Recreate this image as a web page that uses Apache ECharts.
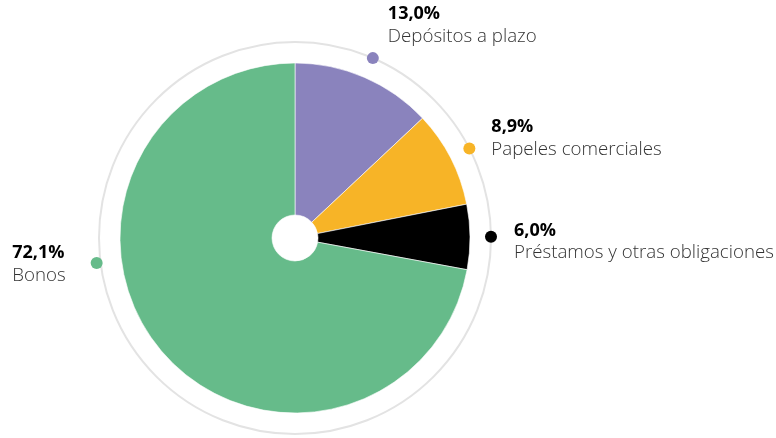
<!DOCTYPE html>
<html>
<head>
<meta charset="utf-8">
<script src="https://cdn.jsdelivr.net/npm/echarts@6/dist/echarts.min.js"></script>
<style>
  html, body { margin: 0; padding: 0; background: #fff; }
  #chart { width: 776px; height: 438px; }
</style>
</head>
<body>
<div id="chart"></div>
<script>
// Composición del financiamiento
var categories = ['Depósitos a plazo', 'Papeles comerciales', 'Préstamos y otras obligaciones', 'Bonos'];
var shares = [13.0, 8.9, 6.0, 72.1];
var valueLabels = ['13,0%', '8,9%', '6,0%', '72,1%'];
var colors = ['#8a83bd', '#f7b427', '#000000', '#66bb8a'];

var FONT = '"Open Sans", "Noto Sans", sans-serif';
var CENTER = [295, 238];

// Marker angle on the outer ring: middle of each slice (in % of the full turn)
var total = shares.reduce(function (a, b) { return a + b; }, 0);
var acc = 0;
var anchors = shares.map(function (v) {
  var mid = (acc + v / 2) / total * 100;
  acc += v;
  return mid;
});
// the large slice keeps its marker on the left side of the ring
anchors[3] = 73.0;

// label placement per marker
var labelPlacement = [
  { position: 'right', distance: 9, offset: [0, -33] },
  { position: 'right', distance: 16, offset: [0, -10] },
  { position: 'right', distance: 17, offset: [0, 5] },
  { position: 'left', distance: 25, offset: [0, 1] }
];

var pieData = categories.map(function (name, i) {
  return { name: name, value: shares[i], itemStyle: { color: colors[i] } };
});

var markerData = categories.map(function (name, i) {
  var p = labelPlacement[i];
  return {
    name: name,
    value: [i === 3 ? 1.02 : 1, anchors[i]],
    itemStyle: { color: colors[i], opacity: 1 },
    label: {
      show: true,
      position: p.position,
      distance: p.distance,
      offset: p.offset,
      formatter: '{v|' + valueLabels[i] + '}\n{n|' + name + '}'
    }
  };
});

var chart = echarts.init(document.getElementById('chart'), null, { renderer: 'canvas' });
chart.setOption({
  animation: false,
  backgroundColor: '#ffffff',
  polar: { center: CENTER, radius: 196 },
  angleAxis: {
    type: 'value', min: 0, max: 100, startAngle: 90, clockwise: true,
    axisLine: { show: true, lineStyle: { color: '#e3e3e3', width: 2 } },
    axisTick: { show: false }, axisLabel: { show: false }, splitLine: { show: false }
  },
  radiusAxis: { type: 'value', min: 0, max: 1, show: false },
  series: [
    {
      type: 'pie',
      center: CENTER,
      radius: [23, 175],
      startAngle: 90,
      clockwise: true,
      silent: true,
      label: { show: false },
      labelLine: { show: false },
      itemStyle: { borderColor: '#ffffff', borderWidth: 0.6 },
      data: pieData
    },
    {
      type: 'scatter',
      coordinateSystem: 'polar',
      symbol: 'circle',
      symbolSize: 12,
      clip: false,
      silent: true,
      itemStyle: { opacity: 1 },
      label: {
        rich: {
          v: { fontFamily: FONT, fontWeight: 'bold', fontSize: 18, color: '#000000', lineHeight: 22.5, align: 'left' },
          n: { fontFamily: FONT, fontWeight: 300, fontSize: 18.7, color: '#333333', lineHeight: 22.5, align: 'left' }
        }
      },
      data: markerData
    }
  ]
});
</script>
</body>
</html>
